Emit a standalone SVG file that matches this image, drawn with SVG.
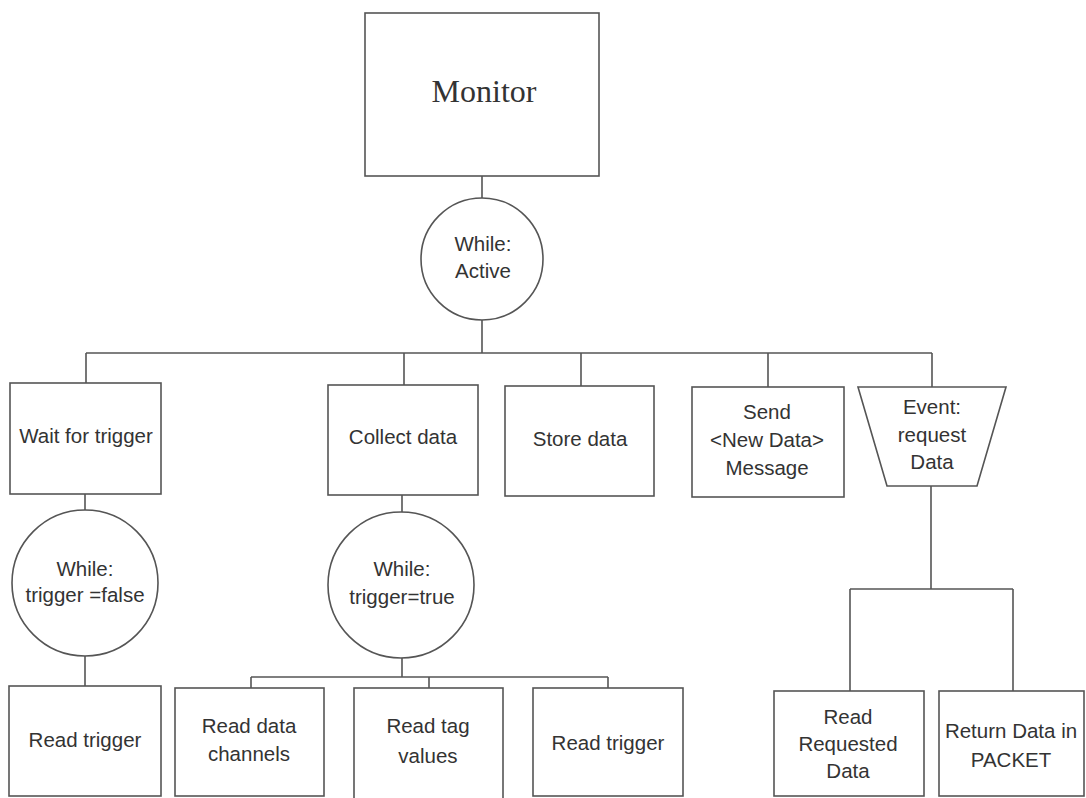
<svg xmlns="http://www.w3.org/2000/svg" width="1086" height="798" viewBox="0 0 1086 798">
<style>
.box{fill:#fff;stroke:#555;stroke-width:1.6}
.ln{fill:none;stroke:#555;stroke-width:1.6}
.t{font-family:"Liberation Sans",Arial,sans-serif;font-size:20.5px;fill:#333;text-anchor:middle}
.m{font-family:"Liberation Serif","Times New Roman",serif;font-size:32px;fill:#333;text-anchor:middle}
</style>
<rect width="1086" height="798" fill="#fff"/>
<g id="connectors">
<path class="ln" d="M482 176V199M482 320V353M86 353H932M86 353V383M404 353V385M581 353V386M768 353V387M932 353V387"/>
<path class="ln" d="M85 494V510M85 656V686"/>
<path class="ln" d="M402 495V512M402 658V677M251 677H608M251 677V688M429 677V688M608 677V688"/>
<path class="ln" d="M931 486V589M850 589H1013M850 589V691M1013 589V691"/>
</g>
<g id="monitor"><rect class="box" x="365" y="13" width="234" height="163"/><text class="m" x="484" y="102">Monitor</text></g>
<g id="while-active"><circle class="box" cx="482" cy="259" r="61"/><text class="t" x="483" y="251">While:</text><text class="t" x="483" y="278">Active</text></g>
<g id="wait-trigger"><rect class="box" x="10" y="383" width="151" height="111"/><text class="t" x="86" y="443">Wait for trigger</text></g>
<g id="collect-data"><rect class="box" x="328" y="385" width="150" height="110"/><text class="t" x="403" y="444">Collect data</text></g>
<g id="store-data"><rect class="box" x="505" y="386" width="149" height="110"/><text class="t" x="580" y="446">Store data</text></g>
<g id="send-msg"><rect class="box" x="692" y="387" width="152" height="110"/><text class="t" x="767" y="419">Send</text><text class="t" x="767" y="447">&lt;New Data&gt;</text><text class="t" x="767" y="475">Message</text></g>
<g id="event-request"><polygon class="box" points="858,387 1006,387 977,486 887,486"/><text class="t" x="932" y="414">Event:</text><text class="t" x="932" y="442">request</text><text class="t" x="932" y="469">Data</text></g>
<g id="while-false"><circle class="box" cx="85" cy="583" r="73"/><text class="t" x="85" y="576">While:</text><text class="t" x="85" y="602">trigger =false</text></g>
<g id="while-true"><circle class="box" cx="401" cy="585" r="73"/><text class="t" x="402" y="576">While:</text><text class="t" x="402" y="604">trigger=true</text></g>
<g id="read-trigger-1"><rect class="box" x="9" y="686" width="152" height="110"/><text class="t" x="85" y="747">Read trigger</text></g>
<g id="read-channels"><rect class="box" x="175" y="688" width="149" height="108"/><text class="t" x="249" y="733">Read data</text><text class="t" x="249" y="761">channels</text></g>
<g id="read-tags"><rect class="box" x="354" y="688" width="149" height="112"/><text class="t" x="428" y="733">Read tag</text><text class="t" x="428" y="763">values</text></g>
<g id="read-trigger-2"><rect class="box" x="533" y="688" width="150" height="108"/><text class="t" x="608" y="750">Read trigger</text></g>
<g id="read-requested"><rect class="box" x="774" y="691" width="150" height="105"/><text class="t" x="848" y="724">Read</text><text class="t" x="848" y="751">Requested</text><text class="t" x="848" y="778">Data</text></g>
<g id="return-packet"><rect class="box" x="939" y="691" width="145" height="105"/><text class="t" x="1011" y="738">Return Data in</text><text class="t" x="1011" y="767">PACKET</text></g>
</svg>
